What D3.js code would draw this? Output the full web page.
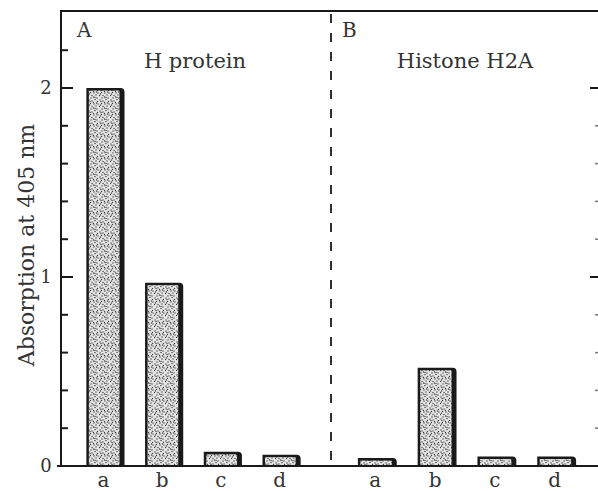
<!DOCTYPE html>
<html><head><meta charset="utf-8">
<script src="https://cdn.jsdelivr.net/npm/d3@7"></script>
<style>body{margin:0;background:#fff}svg{display:block}</style>
</head><body>
<svg id="c" width="598" height="491"></svg>
<script>
const categories = ["a","b","c","d"];
const panelA = [2.0, 0.97, 0.075, 0.06];
const panelB = [0.042, 0.52, 0.05, 0.05];
const panelLabels = ["A","B"];
const panelTitles = ["H protein","Histone H2A"];
const majorTicks = [0,1,2];
const minorTicks = [0.2,0.4,0.6,0.8,1.2,1.4,1.6,1.8,2.2];
const yLabel = "Absorption at 405 nm";

const svg = d3.select("#c");
const FONT = "DejaVu Serif";
const ink = "#1a1a1a";

// stipple texture
const defs = svg.append("defs");
const pat = defs.append("pattern").attr("id","stip").attr("patternUnits","userSpaceOnUse")
  .attr("width",11).attr("height",11);
pat.append("rect").attr("width",11).attr("height",11).attr("fill","#e4e4e4");
const dots = [[1,1],[4,2],[7,0.5],[9.5,2.5],[2.5,4.5],[6,5],[8,7],[0.5,7.5],[4,7.5],[5.5,3.5],
  [1.5,6],[10,5],[7,9.5],[3,10],[9,10],[5.5,9],[2,2.5],[8.5,4]];
dots.forEach(d=>pat.append("circle").attr("cx",d[0]).attr("cy",d[1]).attr("r",0.7).attr("fill","#3a3a3a"));

const y = d3.scaleLinear().domain([0,2.4]).range([466, 12.4]);
const xA = d3.scaleBand().domain(categories).range([57,330]).paddingInner(0.35).paddingOuter(0.5);
const xB = d3.scaleBand().domain(categories).range([328,606]).paddingInner(0.35).paddingOuter(0.5);

const leftX = 61, rightX = 597, divX = 331;
const baseY = y(0), topY = 11;

// frame
svg.append("line").attr("x1",leftX).attr("x2",leftX).attr("y1",topY-1).attr("y2",baseY+1)
  .attr("stroke",ink).attr("stroke-width",2);
svg.append("line").attr("x1",leftX-1).attr("x2",598).attr("y1",topY).attr("y2",topY)
  .attr("stroke",ink).attr("stroke-width",2);
svg.append("line").attr("x1",57).attr("x2",598).attr("y1",baseY).attr("y2",baseY)
  .attr("stroke",ink).attr("stroke-width",2);
svg.append("line").attr("x1",divX).attr("x2",divX).attr("y1",topY+3).attr("y2",baseY)
  .attr("stroke",ink).attr("stroke-width",1.8).attr("stroke-dasharray","9,10");

// left axis ticks
const ticks = svg.append("g");
majorTicks.forEach(t=>{
  ticks.append("line").attr("x1",leftX).attr("x2",leftX+12).attr("y1",y(t)).attr("y2",y(t))
    .attr("stroke",ink).attr("stroke-width",2);
  ticks.append("text").attr("x",46).attr("y",y(t)).attr("dy","0.36em").attr("text-anchor","middle")
    .attr("font-family",FONT).attr("font-size",18).attr("fill","#333").text(t);
});
minorTicks.forEach(t=>{
  ticks.append("line").attr("x1",leftX).attr("x2",leftX+7).attr("y1",y(t)).attr("y2",y(t))
    .attr("stroke",ink).attr("stroke-width",2);
});
// right axis ticks
[1,2].forEach(t=>{
  ticks.append("line").attr("x1",rightX-7).attr("x2",598).attr("y1",y(t)).attr("y2",y(t))
    .attr("stroke",ink).attr("stroke-width",2);
});
minorTicks.filter(t=>t<2).forEach(t=>{
  ticks.append("line").attr("x1",rightX-2).attr("x2",598).attr("y1",y(t)).attr("y2",y(t))
    .attr("stroke","#777").attr("stroke-width",1.5);
});

// bars
function drawBars(scale, vals){
  const g = svg.append("g");
  categories.forEach((c,i)=>{
    const x0 = scale(c), x1 = x0 + scale.bandwidth(), yt = y(vals[i]), r = 4;
    g.append("path")
      .attr("d",`M${x0},${baseY} V${yt} H${x1-r} Q${x1},${yt} ${x1},${yt+r} V${baseY} Z`)
      .attr("fill",ink);
    const h = baseY - yt;
    if (h > 5) {
      g.append("rect").attr("x",x0+2.5).attr("y",yt+2.5).attr("width",scale.bandwidth()-7.5)
        .attr("height",Math.max(0,h-3.5)).attr("fill","url(#stip)");
    }
    svg.append("text").attr("x",x0+scale.bandwidth()/2-2).attr("y",487).attr("text-anchor","middle")
      .attr("font-family",FONT).attr("font-size",20).attr("fill","#333").text(c);
  });
}
drawBars(xA, panelA);
drawBars(xB, panelB);

// panel labels and titles
svg.append("text").attr("x",77).attr("y",37).attr("font-family",FONT).attr("font-size",20)
  .attr("fill","#333").text(panelLabels[0]);
svg.append("text").attr("x",342).attr("y",37).attr("font-family",FONT).attr("font-size",20)
  .attr("fill","#333").text(panelLabels[1]);
svg.append("text").attr("x",195).attr("y",68).attr("text-anchor","middle").attr("font-family",FONT)
  .attr("font-size",21).attr("fill","#333").text(panelTitles[0]);
svg.append("text").attr("x",465).attr("y",68).attr("text-anchor","middle").attr("font-family",FONT)
  .attr("font-size",21).attr("fill","#333").text(panelTitles[1]);

// y label
svg.append("text").attr("transform","translate(34,245) rotate(-90)").attr("text-anchor","middle")
  .attr("font-family",FONT).attr("font-size",22).attr("fill","#333").text(yLabel);
</script>
</body></html>
